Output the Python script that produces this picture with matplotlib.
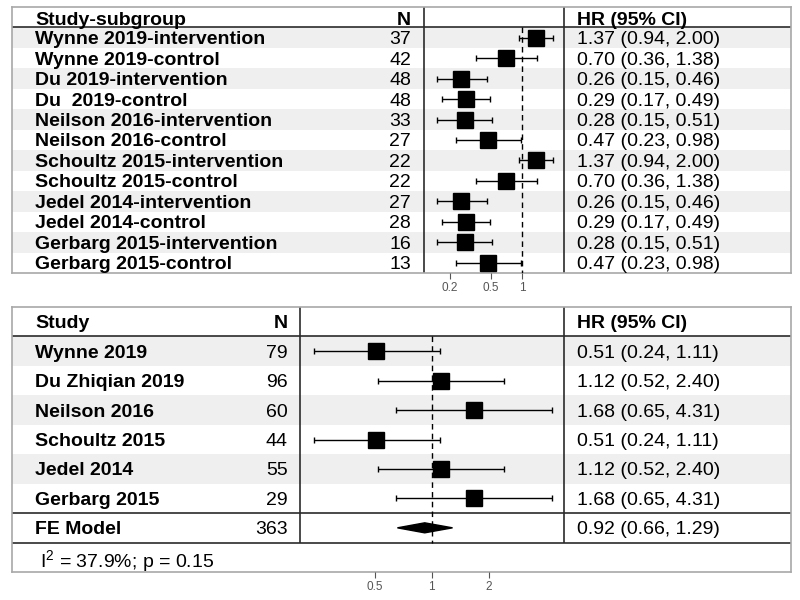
import matplotlib
matplotlib.use("Agg")
import matplotlib.pyplot as plt
import numpy as np

plt.rcParams["font.family"] = ["Liberation Sans", "DejaVu Sans"]

# top table: study subgroups
sub_names = ["Wynne 2019-intervention", "Wynne 2019-control", "Du 2019-intervention",
             "Du  2019-control", "Neilson 2016-intervention", "Neilson 2016-control",
             "Schoultz 2015-intervention", "Schoultz 2015-control", "Jedel 2014-intervention",
             "Jedel 2014-control", "Gerbarg 2015-intervention", "Gerbarg 2015-control"]
sub_n = [37, 42, 48, 48, 33, 27, 22, 22, 27, 28, 16, 13]
sub_hr = [1.37, 0.70, 0.26, 0.29, 0.28, 0.47, 1.37, 0.70, 0.26, 0.29, 0.28, 0.47]
sub_lo = [0.94, 0.36, 0.15, 0.17, 0.15, 0.23, 0.94, 0.36, 0.15, 0.17, 0.15, 0.23]
sub_hi = [2.00, 1.38, 0.46, 0.49, 0.51, 0.98, 2.00, 1.38, 0.46, 0.49, 0.51, 0.98]
sub_ticks = [0.2, 0.5, 1]

# bottom table: studies + fixed effect model
st_names = ["Wynne 2019", "Du Zhiqian 2019", "Neilson 2016", "Schoultz 2015", "Jedel 2014", "Gerbarg 2015"]
st_n = [79, 96, 60, 44, 55, 29]
st_hr = [0.51, 1.12, 1.68, 0.51, 1.12, 1.68]
st_lo = [0.24, 0.52, 0.65, 0.24, 0.52, 0.65]
st_hi = [1.11, 2.40, 4.31, 1.11, 2.40, 4.31]
fe_n = 363
fe_hr, fe_lo, fe_hi = 0.92, 0.66, 1.29
i2, pval = 37.9, 0.15
st_ticks = [0.5, 1, 2]

W, H = 800, 600
fig = plt.figure(figsize=(8, 6), dpi=100)

def px_axes(x0, y0, x1, y1, z=0):
    # axes placed by pixel box (top-left origin)
    return fig.add_axes([x0 / W, 1 - y1 / H, (x1 - x0) / W, (y1 - y0) / H], zorder=z)

def fmt(h, l, u):
    return f"{h:.2f} ({l:.2f}, {u:.2f})"

shade = "#efefef"
border = "#a8a8a8"
line = "#2b2b2b"
fs = 14
va = "center_baseline"

def table_axes(x0, y0, x1, y1, nrows):
    ax = px_axes(x0, y0, x1, y1, 0)
    ax.set_xlim(x0, x1)
    ax.set_ylim(nrows, -1)
    ax.set_xticks([])
    ax.set_yticks([])
    for s in ax.spines.values():
        s.set_color(border)
        s.set_linewidth(1.2)
    return ax

def forest_axes(x0, y0, x1, y1, nrows, xlim, ticks):
    ax = px_axes(x0, y0, x1, y1, 1)
    ax.patch.set_alpha(0)
    ax.set_xscale("log")
    ax.set_xlim(*xlim)
    ax.set_ylim(nrows, -1)
    for s in ax.spines.values():
        s.set_visible(False)
    ax.set_yticks([])
    ax.set_xticks(ticks)
    ax.set_xticklabels([f"{t:g}" for t in ticks])
    ax.minorticks_off()
    ax.tick_params(axis="x", direction="out", length=4, width=0.8, color="#555555",
                   labelsize=8.5, labelcolor="#555555", pad=2.5)
    return ax

def draw_ci(ax, hr, lo, hi, y):
    hr, lo, hi = np.array(hr), np.array(lo), np.array(hi)
    ax.errorbar(hr, y, xerr=[hr - lo, hi - hr], fmt="none", ecolor="black",
                elinewidth=1, capsize=2, capthick=1, zorder=2)
    ax.plot(hr, y, "s", color="black", markersize=11, zorder=3)

# ---- top panel ----
nt = len(sub_names)
ta = table_axes(12, 7, 791, 273, nt)
for i in range(nt):
    if i % 2 == 0:
        ta.axhspan(i, i + 1, color=shade, lw=0, zorder=0)
ta.axhline(0, color=line, lw=1.2)
ta.vlines([424, 564], -1, nt, color=line, lw=1.2)
ta.text(35, -0.45, "Study-subgroup", fontsize=fs, fontweight="bold", va=va)
ta.text(411, -0.45, "N", fontsize=fs, fontweight="bold", va=va, ha="right")
ta.text(577, -0.45, "HR (95% CI)", fontsize=fs, fontweight="bold", va=va)
for i in range(nt):
    ta.text(35, i + 0.5, sub_names[i], fontsize=fs, fontweight="bold", va=va)
    ta.text(411, i + 0.5, str(sub_n[i]), fontsize=fs, va=va, ha="right")
    ta.text(577, i + 0.5, fmt(sub_hr[i], sub_lo[i], sub_hi[i]), fontsize=fs, va=va)

fa = forest_axes(424, 7, 564, 273, nt, (0.113, 2.54), sub_ticks)
fa.vlines(1, 0, nt, color="black", lw=1, linestyles=(0, (4, 3)))
draw_ci(fa, sub_hr, sub_lo, sub_hi, np.arange(nt) + 0.5)

# ---- bottom panel ----
ns = len(st_names)
nb = ns + 2  # studies + FE row + I2 row
ba = table_axes(12, 307, 791, 572, nb)
for i in range(ns):
    if i % 2 == 0:
        ba.axhspan(i, i + 1, color=shade, lw=0, zorder=0)
ba.axhline(0, color=line, lw=1.2)
ba.axhline(ns, color=line, lw=1.2)
ba.axhline(ns + 1, color=line, lw=1.2)
ba.vlines([300, 564], -1, ns + 1, color=line, lw=1.2)
ba.text(35, -0.5, "Study", fontsize=fs, fontweight="bold", va=va)
ba.text(288, -0.5, "N", fontsize=fs, fontweight="bold", va=va, ha="right")
ba.text(577, -0.5, "HR (95% CI)", fontsize=fs, fontweight="bold", va=va)
for i in range(ns):
    ba.text(35, i + 0.5, st_names[i], fontsize=fs, fontweight="bold", va=va)
    ba.text(288, i + 0.5, str(st_n[i]), fontsize=fs, va=va, ha="right")
    ba.text(577, i + 0.5, fmt(st_hr[i], st_lo[i], st_hi[i]), fontsize=fs, va=va)
ba.text(35, ns + 0.5, "FE Model", fontsize=fs, fontweight="bold", va=va)
ba.text(288, ns + 0.5, str(fe_n), fontsize=fs, va=va, ha="right")
ba.text(577, ns + 0.5, fmt(fe_hr, fe_lo, fe_hi), fontsize=fs, va=va)
ba.text(40, ns + 1.5, r"$\mathregular{I^2}$ = " + f"{i2}%; p = {pval}", fontsize=fs, va=va)

fb = forest_axes(300, 307, 564, 572, nb, (0.202, 5.0), st_ticks)
fb.vlines(1, 0, ns + 1, color="black", lw=1, linestyles=(0, (4, 3)))
draw_ci(fb, st_hr, st_lo, st_hi, np.arange(ns) + 0.5)
yc = ns + 0.5
fb.fill([fe_lo, fe_hr, fe_hi, fe_hr], [yc, yc - 0.17, yc, yc + 0.17], color="black", zorder=3)

fig.savefig("out.png", dpi=100)
